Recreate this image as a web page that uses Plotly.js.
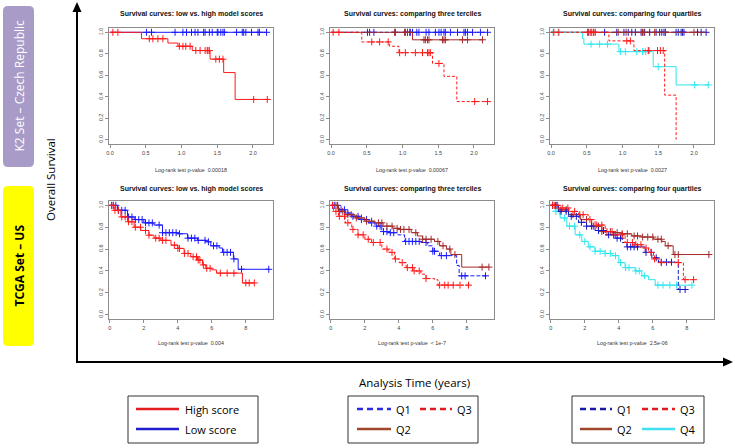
<!DOCTYPE html>
<html><head><meta charset="utf-8">
<script src="https://cdn.plot.ly/plotly-3.0.1.min.js"></script>
<style>html,body{margin:0;padding:0;background:#fff}#chart{width:735px;height:448px}</style>
</head><body><div id="chart"></div>
<script>
// ---------- DATA ----------
const panelTitles = ["Survival curves: low vs. high model scores","Survival curves: comparing three terciles","Survival curves: comparing four quartiles"];
const pValuesTop = ["Log-rank test p-value  0.00018","Log-rank test p-value  0.00067","Log-rank test p-value  0.0027"];
const pValuesBottom = ["Log-rank test p-value  0.004","Log-rank test p-value  < 1e-7","Log-rank test p-value  2.5e-06"];
const topXTicks = [0,0.5,1,1.5,2];
const topXTickText = ["0.0","0.5","1.0","1.5","2.0"];
const bottomXTicks = [0,2,4,6,8];
const bottomXTickText = ["0","2","4","6","8"];
const yTicks = [0,0.2,0.4,0.6,0.8,1];
const yTickText = ["0.0","0.2","0.4","0.6","0.8","1.0"];

// K2 (top) - low vs high
const k2HighT = [0,0.44,0.81,0.95,1.15,1.40,1.59,1.75,2.20];
const k2HighS = [1,0.94,0.90,0.87,0.83,0.75,0.625,0.375,0.375];
const k2HighC = [0.04,0.11,0.55,0.60,0.67,0.74,0.97,1.02,1.06,1.12,1.20,1.26,1.33,1.36,1.37,1.39,1.48,1.53,1.58,2.01,2.20];
const k2LowT = [0,2.19];
const k2LowS = [1,1];
const k2LowC = [0.51,0.58,0.91,1.02,1.07,1.14,1.19,1.23,1.31,1.33,1.39,1.43,1.50,1.51,1.55,1.58,1.60,1.77,1.85,1.87,1.90,1.98,2.07,2.09,2.19];
// K2 terciles
const k2T3Q1T = [0,2.19]; const k2T3Q1S = [1,1];
const k2T3Q1C = [0.51,0.54,0.60,0.90,1.04,1.07,1.11,1.14,1.20,1.23,1.33,1.37,1.46,1.51,1.54,1.58,1.60,1.67,1.77,1.86,1.88,1.91,1.98,2.09,2.19];
const k2T3Q2T = [0,1.14,2.12]; const k2T3Q2S = [1,0.93,0.93];
const k2T3Q2C = [0.89,1.03,1.07,1.10,1.30,1.32,1.35,1.37,1.56,1.58,1.60,1.84,1.91,2.12];
const k2T3Q3T = [0,0.43,0.82,0.95,1.42,1.58,1.76,2.19]; const k2T3Q3S = [1,0.91,0.87,0.81,0.71,0.59,0.355,0.355];
const k2T3Q3C = [0.03,0.11,0.57,0.68,0.80,0.96,1.04,1.18,1.28,1.35,1.37,1.39,1.51,2.01,2.19];
// K2 quartiles
const k2Q4Q1T = [0,2.17]; const k2Q4Q1S = [1,1];
const k2Q4Q1C = [0.52,0.75,0.92,1.02,1.08,1.13,1.18,1.26,1.31,1.38,1.47,1.52,1.55,1.58,1.60,1.75,1.78,1.82,1.84,1.86,2.05,2.10,2.17];
const k2Q4Q2T = [0,2.17]; const k2Q4Q2S = [1,1];
const k2Q4Q2C = [0.56,0.60,0.94,1.05,1.28,1.30,1.45,1.60,2.0];
const k2Q4Q3T = [0,0.81,1.16,1.59,1.75]; const k2Q4Q3S = [1,0.92,0.83,0.415,0.0];
const k2Q4Q3C = [0.04,0.11,0.51,0.53,0.56,0.59,0.62,1.06,1.11,1.36,1.37,1.49,1.53,1.57];
const k2Q4Q4T = [0,0.44,0.46,0.95,1.43,1.75,2.20]; const k2Q4Q4S = [1,0.94,0.89,0.82,0.68,0.51,0.51];
const k2Q4Q4C = [0.03,0.10,0.56,0.68,0.79,0.97,1.04,1.20,1.28,1.32,1.50,2.01,2.20];

// TCGA (bottom) - low vs high
const tcHighT = [0,0.25,0.65,1.04,1.43,1.82,2.3,2.6,3.0,3.6,4.0,4.37,4.76,5.16,5.45,5.65,6.0,6.27,7.8,8.5];
const tcHighS = [1,0.955,0.894,0.85,0.80,0.77,0.727,0.70,0.68,0.636,0.606,0.56,0.53,0.50,0.455,0.424,0.41,0.38,0.29,0.29];
const tcHighC = [0.1,0.2,0.3,0.5,0.7,0.9,1.1,1.3,1.5,1.8,2.1,2.3,2.7,2.9,3.1,3.3,3.8,4.0,4.1,4.4,4.6,4.9,5.1,5.2,5.3,5.5,5.7,5.9,6.5,6.9,7.3,8.0,8.2,8.5];
const tcLowT = [0,0.45,1.04,1.43,2.0,2.6,3.1,4.0,4.57,5.16,5.65,5.94,6.43,6.63,7.27,7.55,9.37];
const tcLowS = [1,0.955,0.894,0.87,0.84,0.82,0.75,0.74,0.70,0.68,0.667,0.63,0.61,0.57,0.51,0.415,0.415];
const tcLowC = [0.1,0.2,0.35,0.5,0.7,0.9,1.1,1.3,1.5,1.7,1.9,2.1,2.3,2.5,2.9,3.1,3.3,3.5,3.7,3.9,4.1,4.6,4.8,5.0,5.2,5.6,5.8,6.1,6.3,6.7,6.9,7.1,7.3,7.75,9.35];
// TCGA terciles
const tcT3Q1T = [0,0.45,0.84,1.23,1.71,2.2,2.6,3.0,3.37,3.95,4.34,5.3,5.7,6.0,6.4,7.4,7.55,9.2];
const tcT3Q1S = [1,0.96,0.93,0.90,0.87,0.84,0.81,0.76,0.75,0.73,0.67,0.66,0.63,0.58,0.54,0.45,0.355,0.355];
const tcT3Q1C = [0.2,0.4,0.6,0.8,1.0,1.3,1.6,1.8,2.1,2.4,2.7,2.9,3.1,3.3,3.5,3.7,4.4,4.6,4.8,5.0,5.2,5.6,6.0,6.1,6.5,6.8,7.7,7.9,9.1];
const tcT3Q2T = [0,0.45,0.84,1.42,2.0,2.6,3.07,3.65,4.05,4.73,5.1,5.4,6.1,6.4,6.8,7.06,7.7,9.3];
const tcT3Q2S = [1,0.945,0.915,0.885,0.855,0.84,0.81,0.79,0.78,0.75,0.72,0.69,0.67,0.63,0.60,0.55,0.435,0.435];
const tcT3Q2C = [0.1,0.3,0.5,0.7,1.0,1.2,1.5,1.8,2.1,2.4,2.8,3.0,3.3,3.6,3.9,4.1,4.3,4.6,5.0,5.4,5.6,5.9,6.3,6.6,7.0,7.3,8.9,9.3];
const tcT3Q3T = [0,0.16,0.45,0.84,1.23,1.6,2.0,2.4,3.0,3.37,3.75,4.05,4.43,4.82,5.3,5.6,6.1,6.3,8.2];
const tcT3Q3S = [1,0.945,0.90,0.84,0.78,0.73,0.69,0.66,0.60,0.57,0.51,0.476,0.43,0.40,0.37,0.33,0.32,0.27,0.27];
const tcT3Q3C = [0.1,0.3,0.5,0.8,1.0,1.3,1.6,1.9,2.2,2.5,2.9,3.3,3.6,3.8,4.2,4.5,4.8,4.9,5.2,5.6,6.4,6.7,6.9,7.2,7.6,8.1];
// TCGA quartiles
const tcQ4Q1T = [0,0.45,1.04,1.63,2.1,2.6,3.2,3.8,4.2,4.47,5.55,5.94,6.33,7.5,8.1];
const tcQ4Q1S = [1,0.945,0.90,0.845,0.81,0.77,0.73,0.70,0.66,0.62,0.57,0.52,0.48,0.23,0.23];
const tcQ4Q1C = [0.1,0.3,0.6,0.9,1.2,1.5,1.8,2.1,2.4,2.8,3.1,3.4,3.7,3.9,4.1,4.5,4.7,4.9,5.1,5.6,5.9,6.2,6.5,6.8,7.1,7.6,7.9];
const tcQ4Q2T = [0,0.45,1.04,1.73,2.4,3.0,3.6,4.2,4.76,5.35,6.04,6.53,6.73,7.2,9.37];
const tcQ4Q2S = [1,0.96,0.915,0.87,0.81,0.76,0.75,0.74,0.72,0.71,0.69,0.67,0.63,0.55,0.55];
const tcQ4Q2C = [0.1,0.3,0.6,0.9,1.3,1.7,2.1,2.5,2.8,3.0,3.5,3.9,4.2,4.5,4.9,5.1,5.4,5.7,6.0,6.3,6.5,6.9,7.3,7.5,9.3];
const tcQ4Q3T = [0,0.45,1.04,1.63,2.2,2.6,3.2,3.8,4.37,4.96,5.35,5.75,6.04,6.43,7.8,8.5];
const tcQ4Q3S = [1,0.976,0.945,0.915,0.87,0.82,0.76,0.73,0.66,0.64,0.61,0.57,0.51,0.476,0.32,0.32];
const tcQ4Q3C = [0.1,0.2,0.4,0.7,1.0,1.4,1.9,2.3,2.7,3.0,3.3,3.6,3.8,4.2,4.5,4.8,5.0,5.3,5.6,5.9,6.1,6.5,7.5,7.9,8.4];
const tcQ4Q4T = [0,0.25,0.55,0.94,1.43,1.82,2.2,2.6,3.2,3.6,4.0,4.37,4.96,5.35,5.75,6.14,8.2];
const tcQ4Q4S = [1,0.945,0.885,0.81,0.73,0.67,0.62,0.58,0.56,0.54,0.476,0.43,0.40,0.355,0.32,0.27,0.27];
const tcQ4Q4C = [0.1,0.3,0.5,0.8,1.1,1.4,1.7,2.0,2.3,2.6,2.9,3.2,3.5,3.8,4.1,4.4,4.6,5.0,5.2,5.5,6.3,6.6,7.0,7.4,8.3];

const legend1Labels = ["High score","Low score"];
const legend2Labels = ["Q1","Q3","Q2"];
const legend3Labels = ["Q1","Q3","Q2","Q4"];
const sideLabels = ["K2 Set – Czech Republic","TCGA Set – US"];
const axisLabels = ["Overall Survival","Analysis Time (years)"];

// ---------- STYLE ----------
const RED='#ff1a1a', BLUE='#1a1aff', BROWN='#a52a2a', CYAN='#2ee6ee', NAVY='#1818c8';
const W=735,H=448;
const X=p=>p/W, Y=p=>1-p/H;

function stepAt(T,S,c){let v=S[0];for(let i=0;i<T.length;i++){if(T[i]<=c)v=S[i];}return v;}
const traces=[];
function curve(ax,T,S,C,color,dash){
  const xa='x'+(ax===1?'':ax), ya='y'+(ax===1?'':ax);
  traces.push({x:T,y:S,xaxis:xa,yaxis:ya,mode:'lines',line:{shape:'hv',color:color,width:1,dash:dash||'solid'},hoverinfo:'skip',showlegend:false});
  traces.push({x:C,y:C.map(c=>stepAt(T,S,c)),xaxis:xa,yaxis:ya,mode:'markers',
    marker:{symbol:'cross-thin-open',size:5,color:color,line:{color:color,width:1}},hoverinfo:'skip',showlegend:false});
}
const DQ1='4px,2px', DQ3='3px,2px';
curve(1,k2LowT,k2LowS,k2LowC,BLUE);
curve(1,k2HighT,k2HighS,k2HighC,RED);
curve(2,k2T3Q1T,k2T3Q1S,k2T3Q1C,BLUE,DQ1);
curve(2,k2T3Q2T,k2T3Q2S,k2T3Q2C,BROWN);
curve(2,k2T3Q3T,k2T3Q3S,k2T3Q3C,RED,DQ3);
curve(3,k2Q4Q1T,k2Q4Q1S,k2Q4Q1C,NAVY,DQ1);
curve(3,k2Q4Q2T,k2Q4Q2S,k2Q4Q2C,BROWN);
curve(3,k2Q4Q4T,k2Q4Q4S,k2Q4Q4C,CYAN);
curve(3,k2Q4Q3T,k2Q4Q3S,k2Q4Q3C,RED,DQ3);
curve(4,tcLowT,tcLowS,tcLowC,BLUE);
curve(4,tcHighT,tcHighS,tcHighC,RED);
curve(5,tcT3Q1T,tcT3Q1S,tcT3Q1C,BLUE,DQ1);
curve(5,tcT3Q2T,tcT3Q2S,tcT3Q2C,BROWN);
curve(5,tcT3Q3T,tcT3Q3S,tcT3Q3C,RED,DQ3);
curve(6,tcQ4Q4T,tcQ4Q4S,tcQ4Q4C,CYAN);
curve(6,tcQ4Q2T,tcQ4Q2S,tcQ4Q2C,BROWN);
curve(6,tcQ4Q1T,tcQ4Q1S,tcQ4Q1C,NAVY,DQ1);
curve(6,tcQ4Q3T,tcQ4Q3S,tcQ4Q3C,RED,DQ3);

const FONT='Liberation Sans, Arial, sans-serif';
const panelX=[[109,273],[330,494],[550,714]];
const rowY=[[28,144],[201,319]];
const layout={width:W,height:H,margin:{l:0,r:0,t:0,b:0},paper_bgcolor:'#fff',plot_bgcolor:'#fff',showlegend:false,
  font:{family:FONT},annotations:[],shapes:[]};
function note(x,y,text,font,extra){layout.annotations.push(Object.assign({xref:'paper',yref:'paper',x:X(x),y:Y(y),text:text,showarrow:false,
  xanchor:'center',yanchor:'middle',font:font},extra||{}));}
for(let r=0;r<2;r++)for(let c=0;c<3;c++){
  const k=r*3+c+1, s=(k===1?'':k);
  const common={showline:true,mirror:true,linecolor:'#8c8c8c',linewidth:1,ticks:'outside',ticklen:3,tickcolor:'#8c8c8c',
    tickfont:{size:5.5,color:'#444',family:FONT},showgrid:false,zeroline:false,fixedrange:true};
  layout['xaxis'+s]=Object.assign({},common,{domain:[X(panelX[c][0]),X(panelX[c][1])],anchor:'y'+s,
    range:r===0?[-0.014,2.28]:[-0.05,9.6],tickmode:'array',tickvals:r===0?topXTicks:bottomXTicks,ticktext:r===0?topXTickText:bottomXTickText});
  layout['yaxis'+s]=Object.assign({},common,{domain:[Y(rowY[r][1]),Y(rowY[r][0])],anchor:'x'+s,range:[-0.04,1.04],
    tickmode:'array',tickvals:yTicks,ticktext:yTickText,tickangle:-90});
  const cx=(panelX[c][0]+panelX[c][1])/2;
  note(cx,r===0?14:189,'<b>'+panelTitles[c]+'</b>',{size:7,color:'#111',family:FONT});
  note(cx,r===0?170:343,(r===0?pValuesTop:pValuesBottom)[c],{size:5.3,color:'#333',family:FONT});
}
function rrect(x0,y0,x1,y1,rad){
  const P=(x,y)=>X(x)+','+Y(y);
  return 'M'+P(x0+rad,y0)+' L'+P(x1-rad,y0)+' Q'+P(x1,y0)+' '+P(x1,y0+rad)+' L'+P(x1,y1-rad)+' Q'+P(x1,y1)+' '+P(x1-rad,y1)+
    ' L'+P(x0+rad,y1)+' Q'+P(x0,y1)+' '+P(x0,y1-rad)+' L'+P(x0,y0+rad)+' Q'+P(x0,y0)+' '+P(x0+rad,y0)+' Z';
}
const SF='Open Sans, Noto Sans, sans-serif';
layout.shapes.push({type:'path',xref:'paper',yref:'paper',path:rrect(3,6,34,167,5),fillcolor:'#a99bc8',line:{width:0}});
layout.shapes.push({type:'path',xref:'paper',yref:'paper',path:rrect(3,186,34,346,5),fillcolor:'#ffff00',line:{width:0}});
note(18.5,86,sideLabels[0],{size:12,color:'#fff',family:SF},{textangle:-90});
note(18.5,266,'<b>'+sideLabels[1]+'</b>',{size:12,color:'#000',family:SF},{textangle:-90});
note(50,180,axisLabels[0],{size:11.5,color:'#000',family:SF},{textangle:-90});
note(415,382,axisLabels[1],{size:11.5,color:'#000',family:SF});
// big axis arrows
layout.shapes.push({type:'line',xref:'paper',yref:'paper',x0:X(77),x1:X(77),y0:Y(363),y1:Y(10),line:{color:'#000',width:2}});
layout.shapes.push({type:'path',xref:'paper',yref:'paper',path:'M'+X(77)+','+Y(2)+' L'+X(72.5)+','+Y(12)+' L'+X(81.5)+','+Y(12)+' Z',fillcolor:'#000',line:{width:0}});
layout.shapes.push({type:'line',xref:'paper',yref:'paper',x0:X(76),x1:X(725),y0:Y(362),y1:Y(362),line:{color:'#000',width:2}});
layout.shapes.push({type:'path',xref:'paper',yref:'paper',path:'M'+X(733)+','+Y(362)+' L'+X(723)+','+Y(357.5)+' L'+X(723)+','+Y(366.5)+' Z',fillcolor:'#000',line:{width:0}});
// legends
function box(x0,y0,x1,y1){layout.shapes.push({type:'rect',xref:'paper',yref:'paper',x0:X(x0),x1:X(x1),y0:Y(y1),y1:Y(y0),line:{color:'#333',width:1},fillcolor:'rgba(0,0,0,0)'});}
function lline(x0,x1,y,color,dash){layout.shapes.push({type:'line',xref:'paper',yref:'paper',x0:X(x0),x1:X(x1),y0:Y(y),y1:Y(y),line:{color:color,width:2.5,dash:dash||'solid'}});}
function ltext(x,y,t){note(x,y,t,{size:11,color:'#000',family:SF},{xanchor:'left'});}
const LD='6px,4px';
box(128,396,258,443);
lline(136,179,409,'#e41a1c'); ltext(183,409,legend1Labels[0]);
lline(136,179,429,'#1f1fd0'); ltext(183,429,legend1Labels[1]);
box(348,396,478,443);
lline(357,391,409,'#2a2ae0',LD); ltext(394,409,legend2Labels[0]);
lline(420,452,409,'#e41a1c',LD); ltext(455,409,legend2Labels[1]);
lline(357,391,429,'#a0452a'); ltext(394,429,legend2Labels[2]);
box(572,396,704,443);
lline(580,612,409,'#1a1aa8',LD); ltext(615,409,legend3Labels[0]);
lline(642,675,409,'#e41a1c',LD); ltext(678,409,legend3Labels[1]);
lline(580,612,429,'#a0452a'); ltext(615,429,legend3Labels[2]);
lline(642,675,429,'#40e0f0'); ltext(678,429,legend3Labels[3]);

Plotly.newPlot('chart',traces,layout,{staticPlot:true,displayModeBar:false});
</script></body></html>
